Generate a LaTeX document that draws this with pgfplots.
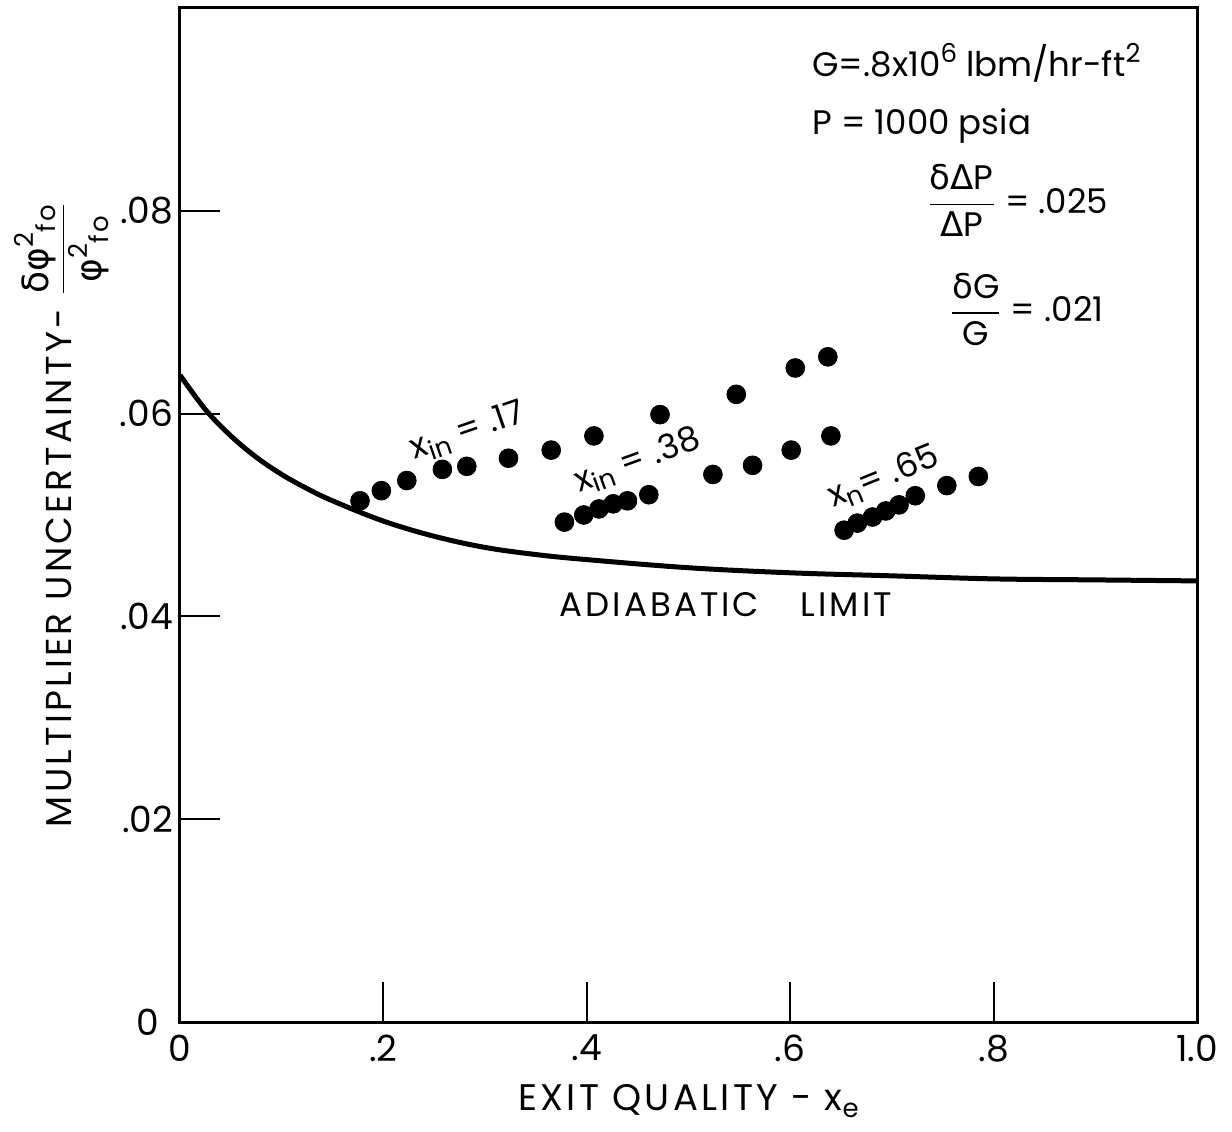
\documentclass[border=0pt]{standalone}
\usepackage{fontspec}
\usepackage{amsmath}
\usepackage{pgfplots}
\pgfplotsset{compat=1.18}
\setmainfont{Poppins}
\newfontfamily\greek{DejaVu Sans}
\newfontfamily\spaced[LetterSpace=9]{Poppins}
\newcommand{\lab}{\fontsize{17}{20}\selectfont}
\newcommand{\lowr}[1]{\raisebox{-0.35ex}{\fontsize{13}{14}\selectfont #1}}
\newcommand{\highr}[1]{\raisebox{0.75ex}{\fontsize{13}{14}\selectfont #1}}

% exit quality vs. multiplier uncertainty, three inlet qualities
\pgfplotstableread{
x y
0.177 0.0514
0.198 0.0524
0.223 0.0534
0.258 0.0545
0.282 0.0548
0.323 0.0556
0.365 0.0564
0.407 0.0578
0.472 0.0599
0.547 0.0619
0.605 0.0645
0.637 0.0656
}\seriesA
\pgfplotstableread{
x y
0.378 0.0493
0.397 0.0500
0.412 0.0506
0.426 0.0511
0.440 0.0514
0.461 0.0520
0.524 0.0540
0.563 0.0549
0.601 0.0564
0.640 0.0578
}\seriesB
\pgfplotstableread{
x y
0.653 0.0485
0.666 0.0492
0.681 0.0498
0.694 0.0504
0.707 0.0510
0.723 0.0519
0.754 0.0529
0.785 0.0538
}\seriesC
% adiabatic limit curve
\pgfplotstableread{
x y
0.000 0.0638
0.025 0.0604
0.050 0.0578
0.075 0.0557
0.100 0.0540
0.125 0.0526
0.150 0.0514
0.200 0.0494
0.250 0.0479
0.300 0.0468
0.350 0.0461
0.400 0.0456
0.500 0.0448
0.600 0.0443
0.700 0.0440
0.800 0.0437
0.900 0.0436
1.000 0.0435
}\adiabatic

\begin{document}
\begin{tikzpicture}
\begin{axis}[
  scale only axis, width=508.5pt, height=507pt,
  xmin=0, xmax=1, ymin=0, ymax=0.1,
  axis line style={line width=1.5pt},
  xtick={0,0.2,0.4,0.6,0.8,1.0},
  xticklabels={0,.2,.4,.6,.8,1.0},
  ytick={0,0.02,0.04,0.06,0.08},
  yticklabels={0\hspace*{7pt},.02,.04,.06,.08},
  xtick pos=left, ytick pos=left,
  tick align=inside, major tick length=20pt,
  tick style={line width=1pt, black},
  yticklabel style={font=\fontsize{18}{20}\selectfont},
  xticklabel style={font=\fontsize{18}{20}\selectfont, yshift=-3pt},
  xlabel={EXIT QUALITY - x\lowr{e}},
  xlabel style={font=\fontsize{18.5}{21}\spaced, yshift=-4pt},
  clip=false,
]
\addplot[line width=2.5pt, smooth, tension=0.6] table {\adiabatic};
\addplot[only marks, mark=*, mark size=4.7pt] table {\seriesA};
\addplot[only marks, mark=*, mark size=4.7pt] table {\seriesB};
\addplot[only marks, mark=*, mark size=4.7pt] table {\seriesC};

\node[rotate=19, font=\lab] at (axis cs:0.283,0.0582) {x\lowr{in} = .17};
\node[rotate=20, font=\lab] at (axis cs:0.450,0.0553) {x\lowr{in} = .38};
\node[rotate=22, font=\lab] at (axis cs:0.692,0.0537) {x\lowr{n}= .65};
\node[anchor=west, inner sep=0pt, font=\lab\spaced] at (axis cs:0.373,0.0412) {ADIABATIC};
\node[anchor=west, inner sep=0pt, font=\lab\spaced] at (axis cs:0.610,0.0412) {LIMIT};

\node[anchor=west, font=\lab] at (axis cs:0.615,0.0946) {G=.8x10\highr{6} lbm/hr-ft\highr{2}};
\node[anchor=west, font=\lab] at (axis cs:0.615,0.0884) {P = 1000 psia};
\node[anchor=west, font=\lab] at (axis cs:0.728,0.0810)
  {$\dfrac{\text{\greek δΔ}\text{P}}{\text{\greek Δ}\text{P}}$ = .025};
\node[anchor=west, font=\lab] at (axis cs:0.750,0.0703)
  {$\dfrac{\text{\greek δ}\text{G}}{\text{G}}$ = .021};

\node[rotate=90, font=\fontsize{18}{20}\spaced] at ([xshift=-59pt]rel axis cs:0,0.50)
  {MULTIPLIER UNCERTAINTY- $\dfrac{\text{\greek δφ}\text{\highr{2}\lowr{fo}}}{\text{\greek φ}\text{\highr{2}\lowr{fo}}}$};
\end{axis}
\pgfresetboundingbox
\path[use as bounding box] ([shift={(-90pt,-54.5pt)}]current axis.south west)
  rectangle ([shift={(17.5pt,4pt)}]current axis.north east);
\end{tikzpicture}
\end{document}
